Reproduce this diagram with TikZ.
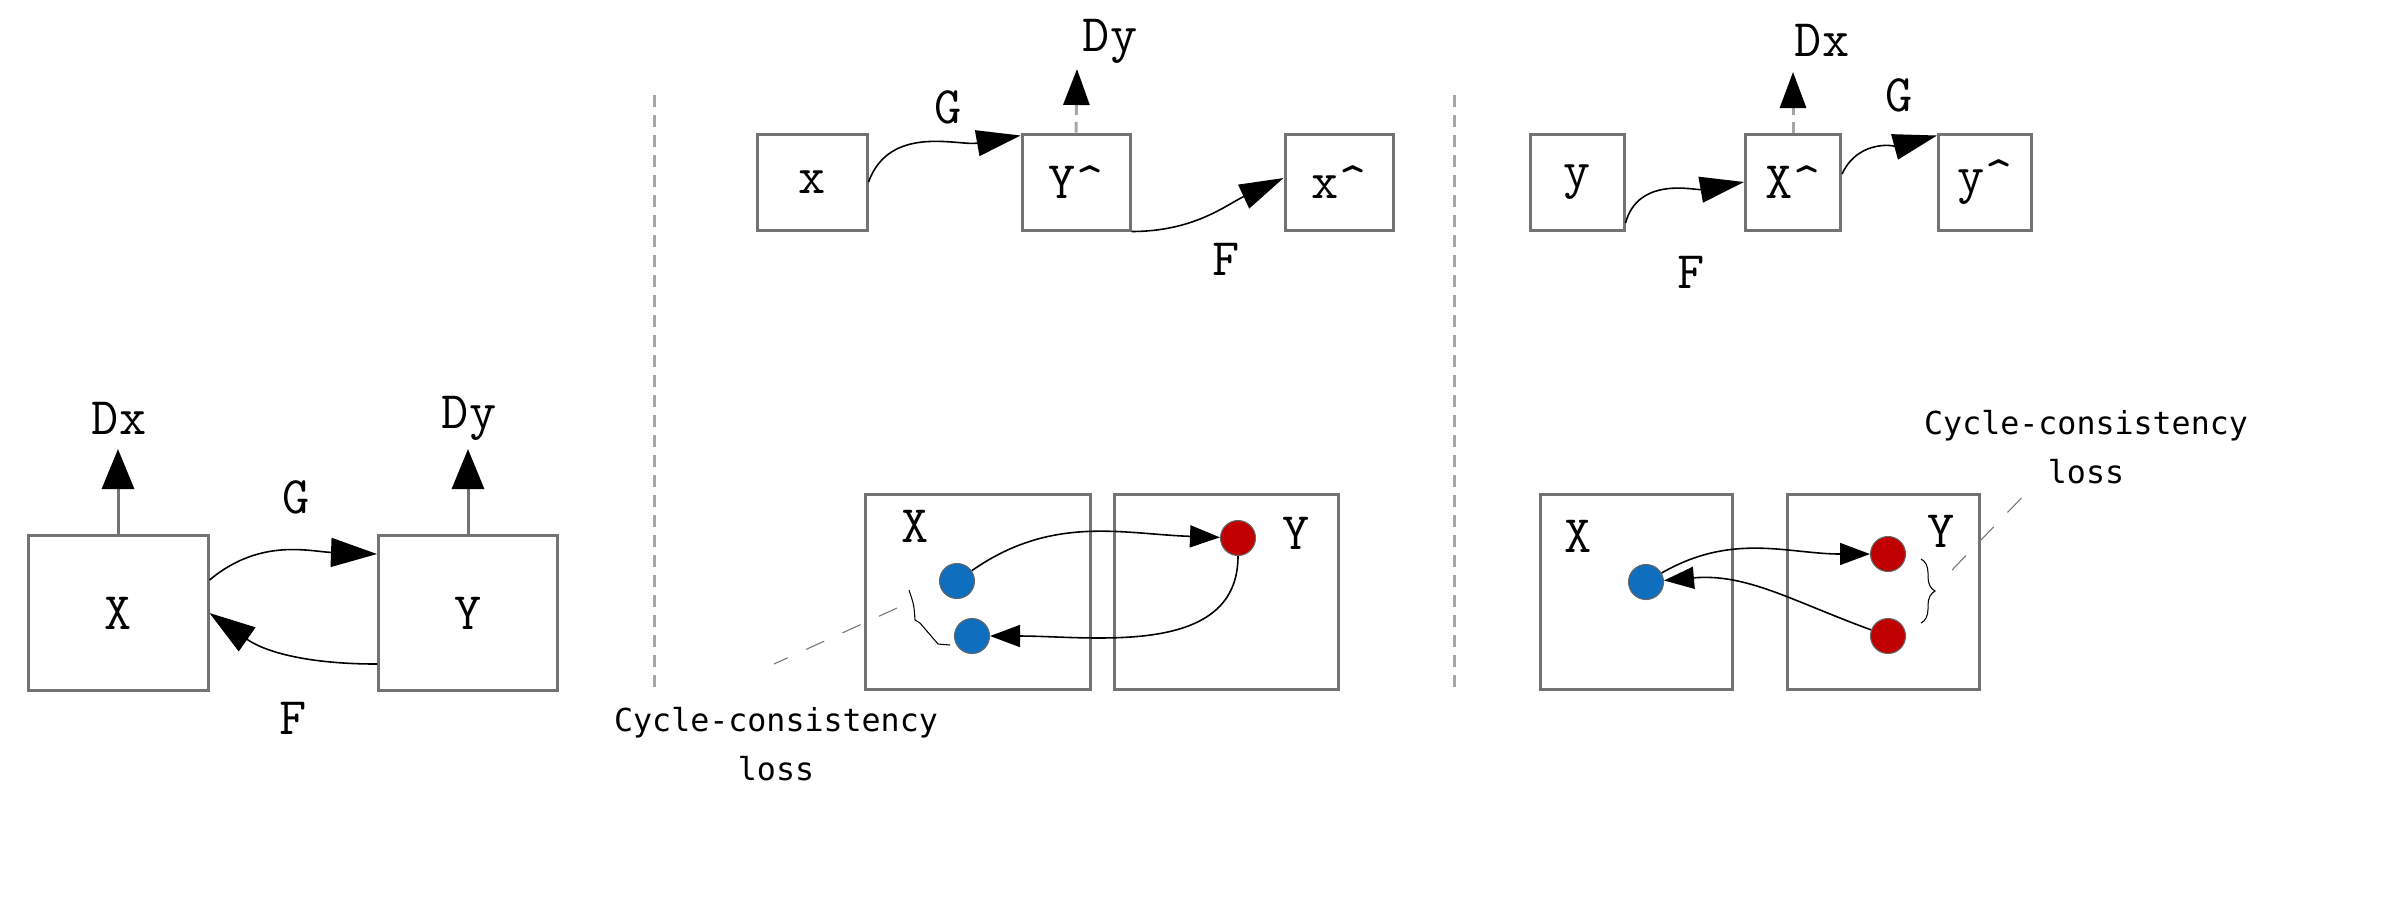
\documentclass[tikz,border=0pt]{standalone}
\usepackage{fontspec}
\newfontfamily\smallmono{DejaVu Sans Mono}
\usetikzlibrary{arrows.meta,decorations.pathreplacing}
\definecolor{dotblue}{RGB}{16,110,190}
\definecolor{dotred}{RGB}{192,0,0}
\newcommand\lossnote{\smallmono\fontsize{9}{14}\selectfont}

\begin{document}
\begin{tikzpicture}[x=0.1mm,y=0.1mm,
    box/.style={draw=black!55,line width=0.3mm,minimum width=#1,minimum height=15.5mm,inner sep=0pt},
    tbox/.style={draw=black!55,line width=0.3mm,minimum width=#1,minimum height=9.6mm,inner sep=0pt},
    bbox/.style={draw=black!55,line width=0.3mm,minimum width=#1,minimum height=19.5mm,inner sep=0pt},
    lbl/.style={font=\ttfamily\fontsize{15}{15}\selectfont,inner sep=0pt},
    big/.style={-{Triangle[length=4.6mm,width=2.9mm]},line width=0.45pt},
    mid/.style={-{Triangle[length=4.4mm,width=2.6mm]},line width=0.45pt},
    small/.style={-{Triangle[length=3mm,width=2.2mm]},line width=0.45pt},
    up/.style={-{Triangle[length=4mm,width=3.2mm,color=black]},line width=0.3mm,draw=black!55},
    dup/.style={-{Triangle[length=3.6mm,width=2.6mm,color=black]},line width=0.3mm,draw=black!35,densely dashed},
    dot/.style={circle,draw=black!60,line width=0.3pt,minimum size=3.5mm,inner sep=0pt,fill=#1},
    sep/.style={draw=black!35,line width=0.3mm,dash pattern=on 1.2mm off 0.8mm},
    note/.style={draw=black!55,line width=0.3pt,dash pattern=on 2mm off 2mm}]
  \useasboundingbox (0,0) rectangle (2386,-913);

  % left panel
  \node[box=18mm,lbl] (X) at (118,-613) {X};
  \node[box=17.9mm,lbl] (Y) at (468,-613) {Y};
  \node[lbl] (Dx) at (119,-418) {Dx};
  \node[lbl] (Dy) at (469,-418) {Dy};
  \coordinate (Dxtip) at (118,-449);
  \coordinate (Dytip) at (468,-449);
  \draw[up] (X.north) -- (Dxtip);
  \draw[up] (Y.north) -- (Dytip);
  \node[lbl] (G) at (296,-497) {G};
  \node[lbl] (F) at (293,-718) {F};
  \draw[big] ([yshift=3.3mm]X.east) to[out=40,in=178] ([yshift=5.9mm]Y.west);
  \draw[big] ([yshift=-5.1mm]Y.west) to[out=180,in=-35] (X.east);

  % separators
  \draw[sep] (654,-95) -- (654,-690);
  \draw[sep] (1454,-95) -- (1454,-690);

  % middle panel, top
  \node[tbox=11mm,lbl] (xa) at (812,-182) {x};
  \node[tbox=10.8mm,lbl] (Yh) at (1076,-182) {Y\textasciicircum};
  \node[tbox=10.8mm,lbl] (xh) at (1339,-182) {x\textasciicircum};
  \node[lbl] (Dyb) at (1110,-41) {Dy};
  \coordinate (Dybtip) at (1077,-69);
  \draw[dup] (Yh.north) -- (Dybtip);
  \node[lbl] (Gb) at (948,-107) {G};
  \node[lbl] (Fb) at (1226,-259) {F};
  \draw[mid] (xa.east) to[out=70,in=190] ([yshift=-0.3mm]Yh.north west);
  \draw[mid] (Yh.south east) to[out=0,in=205] ([yshift=0.4mm]xh.west);

  % middle panel, bottom
  \node[bbox=22.5mm] (Xm) at (978,-592) {};
  \node[bbox=22.4mm] (Ym) at (1226,-592) {};
  \node[lbl] (Xml) at (915,-526) {X};
  \node[lbl] (Yml) at (1296,-533) {Y};
  \node[dot=dotblue] (b1) at (957,-581) {};
  \node[dot=dotblue] (b2) at (972,-636) {};
  \node[dot=dotred] (r1) at (1238,-538) {};
  \draw[small] (b1) to[out=35,in=178] (r1);
  \draw[small] (r1) to[out=-90,in=0] (b2);
  \draw[line width=0.3pt] (909,-590) .. controls (914,-605) .. (915,-620) -- (920,-623) -- (938,-644) -- (950,-645);
  \coordinate (na) at (897,-608);
  \coordinate (nb) at (774,-664);
  \draw[note] (na) -- (nb);
  \node[align=center,font=\lossnote,inner sep=0pt] (cl) at (776,-744) {Cycle-consistency\\loss};

  % right panel, top
  \node[tbox=9.4mm,lbl] (yb) at (1577,-182) {y};
  \node[tbox=9.5mm,lbl] (Xh) at (1793,-182) {X\textasciicircum};
  \node[tbox=9.3mm,lbl] (yh) at (1985,-182) {y\textasciicircum};
  \node[lbl] (Dxb) at (1822,-40) {Dx};
  \coordinate (Dxbtip) at (1793,-72);
  \draw[dup] (Xh.north) -- (Dxbtip);
  \node[lbl] (Gc) at (1899,-95) {G};
  \node[lbl] (Fc) at (1691,-272) {F};
  \draw[mid] ([yshift=-4.1mm]yb.east) to[out=75,in=190] (Xh.west);
  \draw[mid] ([yshift=0.8mm]Xh.east) to[out=65,in=195] ([yshift=-0.3mm]yh.north west);

  % right panel, bottom
  \node[bbox=19.2mm] (Xr) at (1636,-592) {};
  \node[bbox=19.2mm] (Yr) at (1883,-592) {};
  \node[lbl] (Xrl) at (1578,-536) {X};
  \node[lbl] (Yrl) at (1941,-531) {Y};
  \node[dot=dotblue] (bb) at (1646,-582) {};
  \node[dot=dotred] (rr1) at (1888,-554) {};
  \node[dot=dotred] (rr2) at (1888,-636) {};
  \draw[small] (bb) to[out=30,in=180] (rr1);
  \draw[small] (rr2) to[out=160,in=5] (bb);
  \draw[line width=0.3pt,decorate,decoration={brace,amplitude=1.4mm}] (1921,-559) -- (1921,-623);
  \coordinate (nc) at (1952,-570);
  \coordinate (nd) at (2032,-487);
  \draw[note] (nc) -- (nd);
  \node[align=center,font=\lossnote,inner sep=0pt] (cr) at (2086,-447) {Cycle-consistency\\loss};
\end{tikzpicture}
\end{document}
